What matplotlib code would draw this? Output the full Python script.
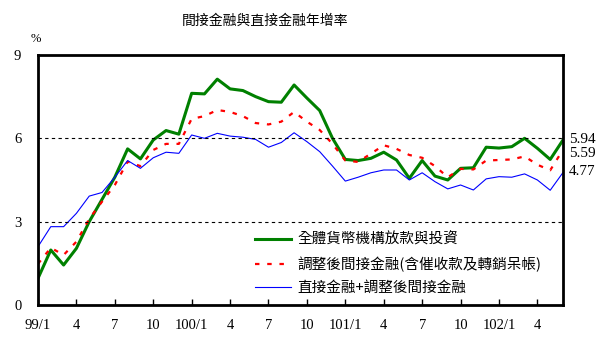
import matplotlib
matplotlib.use("Agg")
import matplotlib.pyplot as plt

plt.rcParams['font.family'] = ['Noto Sans CJK TC', 'DejaVu Sans']

# 99/1 .. 102/6, monthly
months = list(range(42))
tick_pos = list(range(0, 42, 3))
tick_labels = ['99/1', '4', '7', '10', '100/1', '4', '7', '10',
               '101/1', '4', '7', '10', '102/1', '4']

total_loans = [0.96, 1.98, 1.44, 2.04, 3.0, 3.8, 4.6, 5.62, 5.26, 5.94,
               6.28, 6.15, 7.62, 7.6, 8.13, 7.78, 7.72, 7.5, 7.32, 7.3,
               7.92, 7.45, 7.0, 6.0, 5.24, 5.2, 5.28, 5.5, 5.22, 4.56,
               5.2, 4.64, 4.5, 4.92, 4.94, 5.68, 5.65, 5.7, 6.0, 5.64,
               5.24, 5.94]
adj_indirect = [1.48, 2.06, 1.8, 2.28, 3.1, 3.72, 4.32, 5.16, 5.0, 5.58,
                5.8, 5.8, 6.7, 6.8, 7.02, 6.95, 6.8, 6.55, 6.5, 6.6,
                6.95, 6.6, 6.3, 5.8, 5.2, 5.15, 5.45, 5.75, 5.62, 5.4,
                5.3, 5.0, 4.6, 4.9, 4.88, 5.2, 5.22, 5.24, 5.35, 5.05,
                4.85, 5.59]
direct_plus = [2.1, 2.82, 2.82, 3.3, 3.92, 4.05, 4.6, 5.2, 4.92, 5.3,
               5.5, 5.46, 6.12, 6.0, 6.18, 6.08, 6.04, 5.96, 5.68, 5.85,
               6.2, 5.88, 5.52, 5.0, 4.46, 4.6, 4.76, 4.86, 4.86, 4.5,
               4.76, 4.44, 4.18, 4.32, 4.14, 4.54, 4.62, 4.6, 4.72, 4.5,
               4.13, 4.77]

names = ['全體貨幣機構放款與投資',
         '調整後間接金融(含催收款及轉銷呆帳)',
         '直接金融+調整後間接金融']

fig = plt.figure(figsize=(6.05, 3.52), dpi=100)
ax = fig.add_axes([0.0628, 0.1335, 0.8678, 0.7103])

ax.plot(months, total_loans, color='#008000', lw=2.2, label=names[0])
ax.plot(months, adj_indirect, color='red', lw=1.6, dashes=(2, 3.5), label=names[1])
ax.plot(months, direct_plus, color='blue', lw=0.8, label=names[2])

ax.set_xlim(0, 41)
ax.set_ylim(0, 9)
ax.set_yticks([0, 3, 6, 9])
ax.set_xticks(tick_pos)
ax.set_xticklabels(tick_labels)
for y in (3, 6):
    ax.axhline(y, color='black', lw=0.8, ls=(0, (3, 3)))

for s in ax.spines.values():
    s.set_linewidth(2)
ax.tick_params(axis='x', direction='in', length=4, width=1, pad=10)
ax.tick_params(axis='y', length=0, pad=12)
for lab in ax.get_xticklabels() + ax.get_yticklabels():
    lab.set_family('Liberation Serif')
    lab.set_fontsize(10.5)

# end values (5.59 nudged down so it clears 5.94)
ends = [(total_loans[-1], 0), (adj_indirect[-1], -3), (direct_plus[-1], 1)]
for v, dy in ends:
    ax.annotate(f'{v:.2f}', xy=(41, v), xytext=(4, dy), textcoords='offset points',
                va='center', ha='left', fontsize=11, family='Liberation Serif',
                annotation_clip=False)

ax.text(-0.2, 9.35, '%', fontsize=9, ha='center', va='bottom', family='Liberation Serif')
fig.text(0.438, 0.94, '間接金融與直接金融年增率', ha='center', va='center', fontsize=10)

leg = ax.legend(loc='upper left', bbox_to_anchor=(0.413, 0.29), frameon=False,
                fontsize=10.5, handlelength=2.5, handletextpad=0.4,
                labelspacing=0.65, borderpad=0, borderaxespad=0)

fig.savefig('out.png', dpi=100)
